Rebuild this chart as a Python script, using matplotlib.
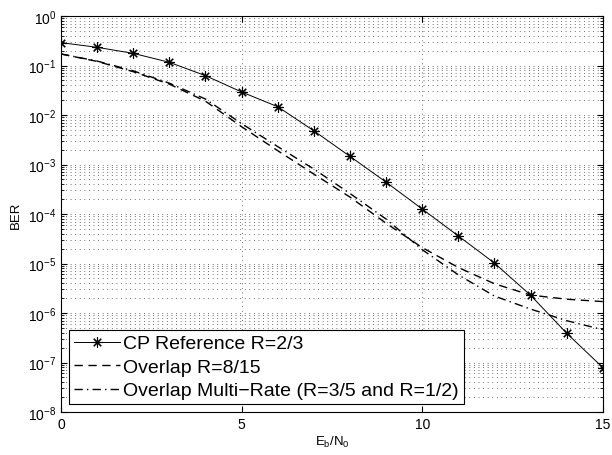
import numpy as np
import matplotlib
matplotlib.use("Agg")
import matplotlib.pyplot as plt
from matplotlib.ticker import LogLocator, NullFormatter, MultipleLocator

plt.rcParams['font.family'] = ['Liberation Sans', 'DejaVu Sans']
plt.rcParams['mathtext.fontset'] = 'custom'
plt.rcParams['mathtext.rm'] = 'Liberation Sans'
plt.rcParams['mathtext.it'] = 'Liberation Sans'

# Eb/N0 in dB
ebn0 = np.arange(0, 16)

ber_cp = [0.29, 0.233, 0.176, 0.116, 0.0623, 0.0292, 0.0147, 4.8e-3, 1.46e-3,
          4.4e-4, 1.26e-4, 3.6e-5, 1.02e-5, 2.28e-6, 3.9e-7, 7.9e-8]
ber_overlap = [0.171, 0.121, 0.075, 0.042, 0.019, 0.0058, 0.0019, 6.4e-4, 2.2e-4,
               6.5e-5, 2.1e-5, 8.3e-6, 3.9e-6, 2.3e-6, 1.9e-6, 1.7e-6]
ber_multirate = [0.171, 0.123, 0.078, 0.044, 0.021, 0.0067, 0.0023, 8.1e-4, 2.6e-4,
                 7.9e-5, 1.9e-5, 5.9e-6, 2.2e-6, 1.2e-6, 7.0e-7, 4.6e-7]

labels = ["CP Reference R=2/3", "Overlap R=8/15",
          "Overlap Multi\u2212Rate (R=3/5 and R=1/2)"]

fig = plt.figure(figsize=(6.12, 4.56), dpi=100)
ax = fig.add_axes([0.0997, 0.0943, 0.8853, 0.8684])

# asterisk marker like MATLAB '*'
ax.semilogy(ebn0, ber_cp, '-', color='k', lw=0.7, marker=(8, 2, 0), ms=7.5,
            mew=0.8, label=labels[0])
ax.semilogy(ebn0, ber_overlap, '--', color='k', lw=1.0,
            dashes=(6, 4), label=labels[1])
ax.semilogy(ebn0, ber_multirate, '-.', color='k', lw=1.0,
            dashes=(6, 3, 1, 3), label=labels[2])

ax.set_xlim(0, 15)
ax.set_ylim(1e-8, 1e0)
ax.xaxis.set_major_locator(MultipleLocator(5))
ax.yaxis.set_major_locator(LogLocator(base=10, numticks=20))
ax.yaxis.set_minor_locator(LogLocator(base=10, subs=np.arange(2, 10), numticks=20))
ax.yaxis.set_minor_formatter(NullFormatter())

# MATLAB-like dotted grid
ax.grid(True, which='major', axis='both', linestyle=(0, (1, 4.5)), color='0.25', lw=0.6)
ax.grid(True, which='minor', axis='y', linestyle=(0, (1, 4.5)), color='0.25', lw=0.6)

ax.tick_params(which='both', direction='in', top=True, right=True, labelsize=10)
ax.tick_params(which='major', length=4)
ax.tick_params(which='minor', length=2)
for s in ax.spines.values():
    s.set_linewidth(0.8)

ax.set_xlabel(r'E$_\mathrm{b}$/N$_\mathrm{0}$', fontsize=9.5, labelpad=2)
ax.set_ylabel('BER', fontsize=9.5, labelpad=4)

leg = ax.legend(loc='lower left', fontsize=14, fancybox=False, framealpha=1,
                edgecolor='k', handlelength=2.4, handletextpad=0.15,
                borderaxespad=0.4, borderpad=0.25, labelspacing=0.3)
leg.get_frame().set_linewidth(0.8)

fig.savefig("out.png", dpi=100)
